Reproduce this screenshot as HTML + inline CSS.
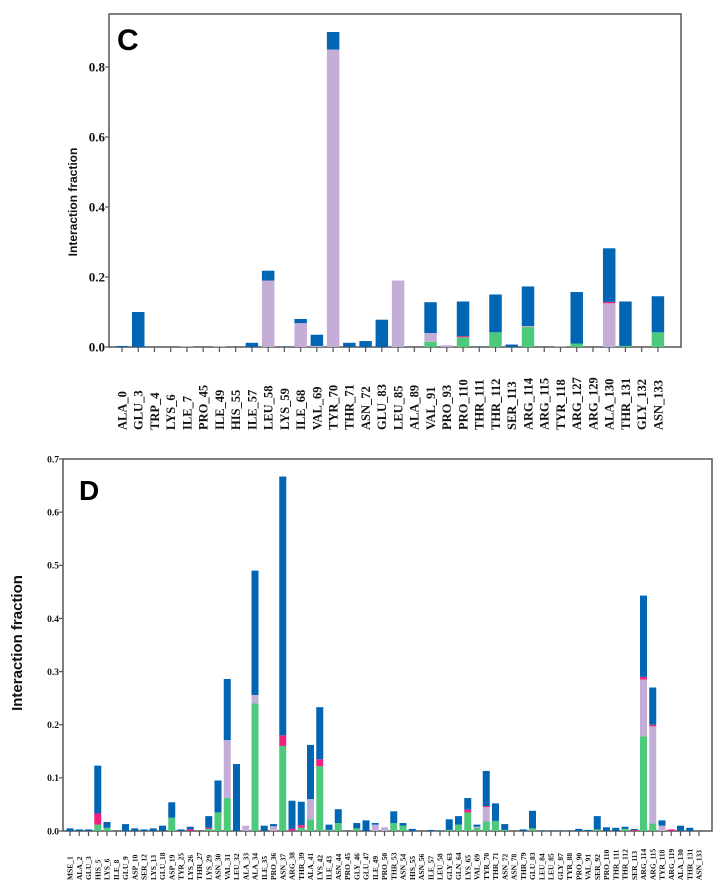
<!DOCTYPE html>
<html><head><meta charset="utf-8"><style>
html,body{margin:0;padding:0;background:#fff;}
svg{display:block;}
</style></head><body>
<svg id="fig" width="724" height="892" viewBox="0 0 724 892" xmlns="http://www.w3.org/2000/svg"></svg>
<script>
// ---------- Panel C data ----------
const cCats = ["ALA_0","GLU_3","TRP_4","LYS_6","ILE_7","PRO_45","ILE_49","HIS_55","ILE_57","LEU_58","LYS_59","ILE_68","VAL_69","TYR_70","THR_71","ASN_72","GLU_83","LEU_85","ALA_89","VAL_91","PRO_93","PRO_110","THR_111","THR_112","SER_113","ARG_114","ARG_115","TYR_118","ARG_127","ARG_129","ALA_130","THR_131","GLY_132","ASN_133"];
const cGreen = [0,0,0,0,0,0,0,0,0,0,0,0,0,0,0,0,0,0,0,0.015,0,0.028,0,0.042,0,0.057,0,0,0.01,0,0,0.003,0,0.042];
const cLav   = [0,0,0,0,0.002,0,0.002,0,0,0.19,0,0.068,0.003,0.85,0,0,0,0.19,0,0.025,0.005,0,0,0,0,0.003,0,0.002,0,0,0.125,0,0,0];
const cPink  = [0,0,0,0,0,0,0,0,0,0,0,0,0,0,0,0,0,0,0,0,0,0.003,0,0,0,0,0,0,0,0,0.004,0,0,0];
const cBlue  = [0.003,0.1,0,0,0,0,0,0,0.012,0.028,0.001,0.012,0.032,0.05,0.012,0.017,0.078,0,0,0.088,0,0.099,0.001,0.108,0.007,0.113,0,0,0.147,0,0.153,0.127,0,0.103];
const cTicks = [0,0.2,0.4,0.6,0.8];
const cTickLabels = ["0.0","0.2","0.4","0.6","0.8"];

// ---------- Panel D data ----------
const dCats = ["MSE_1","ALA_2","GLU_3","HIS_5","LYS_6","ILE_8","GLU_9","ASP_10","SER_12","LYS_13","GLU_18","ASP_19","TYR_25","LYS_26","THR_27","LYS_29","ASN_30","VAL_31","LEU_32","ALA_33","ALA_34","ILE_35","PRO_36","ASN_37","ARG_38","THR_39","ALA_41","LYS_42","ILE_43","ASN_44","PRO_45","GLY_46","GLU_47","ILE_49","PRO_50","THR_53","ASN_54","HIS_55","ASN_56","ILE_57","LEU_58","GLY_63","GLN_64","LYS_65","VAL_69","TYR_70","THR_71","ASN_72","ASN_78","THR_79","GLU_83","LEU_84","LEU_85","GLY_87","TYR_88","PRO_90","VAL_91","SER_92","PRO_110","THR_111","THR_112","SER_113","ARG_114","ARG_115","TYR_118","ARG_119","ALA_130","THR_131","ASN_133"];
const dGreen = [0,0,0,0.012,0.006,0,0,0,0,0,0,0.025,0,0,0,0.004,0.035,0.062,0,0,0.24,0,0,0.16,0,0.006,0.022,0.122,0.002,0.015,0,0.005,0,0,0,0.015,0.01,0,0,0,0,0.002,0.012,0.035,0.006,0.018,0.019,0.002,0,0,0.005,0,0,0,0,0,0,0.003,0,0,0.004,0,0.178,0.014,0,0,0,0,0];
const dLav   = [0,0,0,0,0,0,0,0,0,0,0,0,0,0,0,0,0,0.109,0,0.01,0.016,0,0.009,0,0,0,0.038,0,0,0,0,0,0,0.012,0.007,0,0,0,0,0,0,0,0,0,0.002,0.027,0,0,0,0,0,0,0,0,0,0,0,0,0,0,0,0,0.107,0.183,0.01,0,0,0,0];
const dPink  = [0,0,0,0.021,0,0,0,0,0,0,0,0,0,0.003,0,0.002,0,0,0,0,0,0,0,0.02,0.004,0.005,0,0.013,0,0,0,0,0,0,0,0,0,0,0,0,0,0,0,0.005,0,0.002,0,0,0,0,0,0,0,0,0,0,0,0,0,0,0,0.002,0.005,0.003,0,0.003,0,0,0];
const dBlue  = [0.005,0.003,0.003,0.09,0.011,0,0.013,0.005,0.003,0.005,0.01,0.029,0.003,0.005,0,0.022,0.06,0.115,0.126,0,0.234,0.01,0.004,0.487,0.053,0.044,0.102,0.098,0.01,0.026,0,0.01,0.02,0.003,0,0.022,0.005,0.004,0,0.002,0.001,0.02,0.016,0.022,0.004,0.066,0.033,0.011,0,0.003,0.033,0.001,0.001,0.001,0.001,0.004,0.002,0.025,0.007,0.006,0.004,0.002,0.153,0.07,0.01,0,0.01,0.006,0];
const dTicks = [0,0.1,0.2,0.3,0.4,0.5,0.6,0.7];
const dTickLabels = ["0.0","0.1","0.2","0.3","0.4","0.5","0.6","0.7"];

const COLORS = {green:"#4dc97b", lav:"#c4aed8", pink:"#f0207f", blue:"#0065b3"};
const NS = "http://www.w3.org/2000/svg";
const svg = document.getElementById("fig");

function mk(tag, attrs, parent, text){
  const e = document.createElementNS(NS, tag);
  for (const k in attrs) e.setAttribute(k, attrs[k]);
  if (text !== undefined) e.textContent = text;
  (parent || svg).appendChild(e);
  return e;
}

function panel(cfg){
  const g = mk("g", {});
  
  
  const yS = v => cfg.y0 - (v / cfg.yMax) * (cfg.y0 - cfg.yTopVal);
  const xS = i => cfg.xFirst + i * cfg.step;
  // frame
  const fr = mk("rect", {x:cfg.left, y:cfg.top, width:cfg.right-cfg.left, height:cfg.y0-cfg.top, fill:"none", stroke:"#555", "stroke-width":1.5}, g);
  
  
  // y ticks
  cfg.ticks.forEach((t, k) => {
    const y = yS(t);
    mk("line", {x1:cfg.left-4, x2:cfg.left, y1:y, y2:y, stroke:"#555", "stroke-width":1.2}, g);
    const tl = mk("text", {x:cfg.left-4, y:y+cfg.tickFont*0.35, "text-anchor":"end", "font-family":"Liberation Serif, serif", "font-weight":"bold", "font-size":cfg.tickFont, fill:"#111"}, g, cfg.tickLabels[k]);
    
    
  });
  // bars
  const bw = cfg.barW;
  cfg.cats.forEach((c, i) => {
    const x = xS(i);
    mk("line", {x1:x, x2:x, y1:cfg.y0, y2:cfg.y0+5, stroke:"#555", "stroke-width":1.2}, g);
    let base = 0;
    [["green",cfg.green],["lav",cfg.lav],["pink",cfg.pink],["blue",cfg.blue]].forEach(([key, arr]) => {
      const v = arr[i];
      if (v > 0){
        const r = mk("rect", {x:x-bw/2, y:yS(base+v), width:bw, height:yS(base)-yS(base+v), fill:COLORS[key]}, g);
        
        
        base += v;
      }
    });
    const lb = mk("text", {x:0, y:0, transform:`translate(${x+cfg.labFont*0.35},${cfg.labBottom}) rotate(-90)`, "text-anchor":"start", "font-family":"Liberation Serif, serif", "font-weight":"bold", "font-size":cfg.labFont, fill:"#111"}, g, c);
    
    
  });
  // y title
  const yt = mk("text", {x:0, y:0, transform:`translate(${cfg.ytX},${cfg.ytY}) rotate(-90)`, "text-anchor":"middle", "font-family":"Liberation Sans, sans-serif", "font-weight":"bold", "font-size":cfg.ytFont, fill:"#111"}, g, "Interaction fraction");
  
  
  const pl = mk("text", {x:cfg.letterX, y:cfg.letterY, "font-family":"Liberation Sans, sans-serif", "font-weight":"bold", "font-size":cfg.letterFont, fill:"#000"}, g, cfg.letter);
  
  
}

panel({name:"panel-c", letter:"C", letterX:117, letterY:50, letterFont:30,
  cats:cCats, green:cGreen, lav:cLav, pink:cPink, blue:cBlue, ticks:cTicks, tickLabels:cTickLabels,
  left:109, right:681, top:14, y0:347, yMax:0.8, yTopVal:67, xFirst:122, step:16.24, barW:12.5,
  tickFont:13, labFont:12.5, labBottom:430, ytX:77, ytY:202, ytFont:12});

panel({name:"panel-d", letter:"D", letterX:79, letterY:500, letterFont:28,
  cats:dCats, green:dGreen, lav:dLav, pink:dPink, blue:dBlue, ticks:dTicks, tickLabels:dTickLabels,
  left:63, right:712, top:459, y0:831, yMax:0.7, yTopVal:459, xFirst:70, step:9.25, barW:7,
  tickFont:9.5, labFont:7.5, labBottom:880, ytX:22, ytY:643, ytFont:15});
</script>
</body></html>
